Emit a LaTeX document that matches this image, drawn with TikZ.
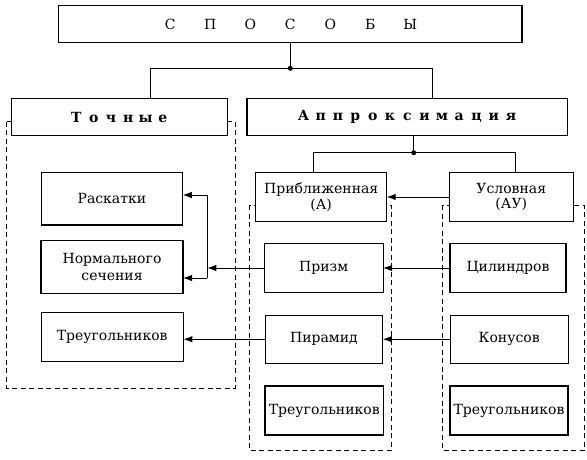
\documentclass[tikz,border=0pt]{standalone}
\usepackage{fontspec}
\setmainfont{DejaVu Serif}
\usetikzlibrary{arrows.meta}
\newcommand{\lsp}[1]{\makebox[17.3pt]{#1}}
\newcommand{\bsp}[1]{\makebox[40pt]{#1}}
\begin{document}
\begin{tikzpicture}[x=1pt,y=-1pt,
  box/.style={draw,line width=1.1pt,fill=white,inner sep=0pt,outer sep=0pt,align=center,
    font=\fontsize{14}{16.5}\selectfont},
  hdr/.style={box,font=\fontsize{14}{16.5}\selectfont\bfseries},
  conn/.style={line width=1pt},
  arr/.style={line width=1pt,-{Latex[length=9pt,width=6.5pt]}},
  dashbox/.style={line width=0.8pt,dash pattern=on 5pt off 3.5pt},
  dotmark/.style={circle,fill=black,inner sep=0pt,minimum size=5pt}]
\useasboundingbox (0,0) rectangle (587,460);
% dashed groups
\draw[dashbox] (6.7,121.7) rectangle (235,388.3);
\draw[dashbox] (249.5,205) rectangle (391,450.5);
\draw[dashbox] (442.5,205) rectangle (584,450.5);
% boxes
\node[box,minimum width=463.3pt,minimum height=36.7pt] (sp) at (290.3,24.3)
  {\bsp{С}\bsp{П}\bsp{О}\bsp{С}\bsp{О}\bsp{Б}\bsp{Ы}};
\node[hdr,minimum width=216pt,minimum height=37pt] (toch) at (119.7,117.2)
  {\lsp{Т}\lsp{о}\lsp{ч}\lsp{н}\lsp{ы}\lsp{е}};
\node[hdr,minimum width=320.7pt,minimum height=36.8pt] (appr) at (407.3,117.1)
  {\lsp{А}\lsp{п}\lsp{п}\lsp{р}\lsp{о}\lsp{к}\lsp{с}\lsp{и}\lsp{м}\lsp{а}\lsp{ц}\lsp{и}\lsp{я}};
\node[box,minimum width=131pt,minimum height=49.4pt,font=\fontsize{14}{15.5}\selectfont] (pribl) at (321.2,197) {Приближенная\\(А)};
\node[box,minimum width=124pt,minimum height=49.4pt,font=\fontsize{14}{15.5}\selectfont] (uslov) at (511.3,197) {Условная\\(АУ)};
\node[box,minimum width=141.7pt,minimum height=52.3pt] (rask) at (111.9,198.8) {Раскатки};
\node[box,minimum width=142pt,minimum height=52.6pt] (norm) at (112,267) {Нормального\\сечения};
\node[box,minimum width=142.3pt,minimum height=48.3pt] (tri1) at (112.2,336.9) {Треугольников};
\node[box,minimum width=118.7pt,minimum height=49.4pt] (prizm) at (323.7,268) {Призм};
\node[box,minimum width=117.7pt,minimum height=48.3pt] (piram) at (323.9,339.2) {Пирамид};
\node[box,minimum width=118.7pt,minimum height=49pt] (tri2) at (324.3,410.5) {Треугольников};
\node[box,minimum width=116pt,minimum height=49.4pt] (cyl) at (508,268) {Цилиндров};
\node[box,minimum width=117.7pt,minimum height=48.3pt] (kon) at (509.2,339.2) {Конусов};
\node[box,minimum width=118pt,minimum height=49pt] (tri3) at (509,410.5) {Треугольников};
% tree connectors
\coordinate (d1) at (290.3,68.3);
\coordinate (h1l) at (150,68.3);
\coordinate (h1r) at (432,68.3);
\draw[conn] (sp.south) -- (d1);
\draw[conn] (toch.north -| h1l) -- (h1l) -- (h1r) -- (h1r |- appr.north);
\node[dotmark] at (d1) {};
\coordinate (d2) at (413.7,152.7);
\coordinate (h2l) at (313.7,152.7);
\coordinate (h2r) at (515.7,152.7);
\draw[conn] (d2 |- appr.south) -- (d2);
\draw[conn] (pribl.north -| h2l) -- (h2l) -- (h2r) -- (h2r |- uslov.north);
\node[dotmark] at (d2) {};
% arrows
\draw[arr] (uslov.west) -- (pribl.east);
\draw[arr] (cyl.west) -- (cyl.west -| prizm.east);
\draw[arr] (kon.west) -- (kon.west -| piram.east);
\coordinate (jm) at (207.3,268);
\coordinate (jt) at (207.3,195);
\coordinate (jb) at (207.3,278);
\draw[arr] (prizm.west) -- (jm);
\draw[conn] (jt) -- (jb);
\draw[arr] (jt) -- (jt -| rask.east);
\draw[arr] (jb) -- (jb -| norm.east);
\draw[arr] (piram.west) -- (piram.west -| tri1.east);
\end{tikzpicture}
\end{document}
